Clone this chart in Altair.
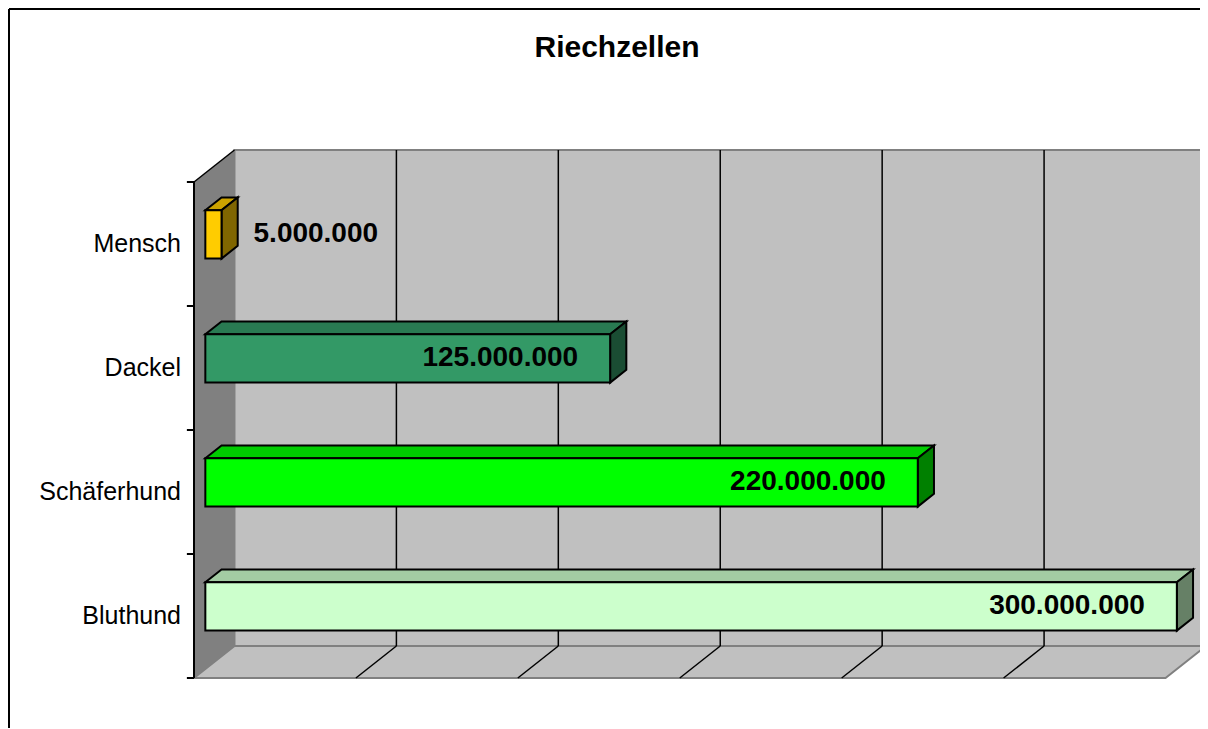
import altair as alt
import pandas as pd

# ---- data -------------------------------------------------------------
categories = ["Bluthund", "Schäferhund", "Dackel", "Mensch"]          # bottom -> top
values = [300000000, 220000000, 125000000, 5000000]
front_colors = ["#CCFFCC", "#00FF00", "#339966", "#FFCC00"]
top_colors = ["#A3CCA3", "#00CC00", "#297A52", "#CCA300"]
side_colors = ["#668066", "#008000", "#1A4D33", "#806600"]
grid_values = [50000000, 100000000, 150000000, 200000000, 250000000]
AXIS_MAX = 300000000
chart_title = "Riechzellen"

# ---- 3D geometry (in data units) ---------------------------------------
DX = 12.5e6          # depth shift along x
DY = 0.258           # depth shift along y (category units)
F1, F2 = 0.28, 0.68  # depth of bar front / back faces
Y0, Y1 = 0.31, 0.70  # bar extent inside its category band
TICK = 2.2e6
N = len(categories)
XMAX = AXIS_MAX + DX
YMAX = N + DY
FONT = "Liberation Sans"
PLOT_W = 1006
X_DOMAIN_MAX = XMAX * PLOT_W / 1012.0   # keep the scale, let the far edge run off the page

xs = alt.Scale(domain=[0, X_DOMAIN_MAX], nice=False, zero=False, clamp=False)
ys = alt.Scale(domain=[0, YMAX], nice=False, zero=False)


def X(f="x"):
    return alt.X(f"{f}:Q", scale=xs, axis=None, stack=None)


def Y(f="y"):
    return alt.Y(f"{f}:Q", scale=ys, axis=None, stack=None)


X2 = alt.X2("x2:Q")
Y2 = alt.Y2("y2:Q")

# back wall
wall = alt.Chart(pd.DataFrame([{"x": DX, "x2": XMAX, "y": DY, "y2": YMAX}])).mark_rect(
    fill="#C0C0C0", stroke="#808080", strokeWidth=2
).encode(x=X(), x2=X2, y=Y(), y2=Y2)

# floor
floor = alt.Chart(pd.DataFrame([
    {"y": 0, "x": 0, "x2": AXIS_MAX},
    {"y": DY, "x": DX, "x2": XMAX},
])).mark_area(orient="horizontal", fill="#C0C0C0", stroke="#808080", strokeWidth=2).encode(
    y=Y(), x=X(), x2=X2
)

# side wall
side = alt.Chart(pd.DataFrame([
    {"x": 0, "y": 0, "y2": N},
    {"x": DX, "y": DY, "y2": YMAX},
])).mark_area(orient="vertical", fill="#808080").encode(x=X(), y=Y(), y2=Y2)

# gridlines on back wall
grid = alt.Chart(pd.DataFrame([{"x": g + DX, "y": DY, "y2": YMAX} for g in grid_values])).mark_rule(
    color="black", strokeWidth=1.5
).encode(x=X(), y=Y(), y2=Y2)

# diagonals on floor
diag = alt.Chart(pd.DataFrame([{"x": g, "x2": g + DX, "y": 0, "y2": DY} for g in grid_values])).mark_rule(
    color="black", strokeWidth=1.5
).encode(x=X(), x2=X2, y=Y(), y2=Y2)

# side wall top edge
side_top = alt.Chart(pd.DataFrame([{"x": 0, "x2": DX, "y": N, "y2": YMAX}])).mark_rule(
    color="black", strokeWidth=1.5
).encode(x=X(), x2=X2, y=Y(), y2=Y2)

# axis line and ticks
axis_line = alt.Chart(pd.DataFrame([{"x": 0, "y": 0, "y2": N}])).mark_rule(
    color="black", strokeWidth=2
).encode(x=X(), y=Y(), y2=Y2)
ticks = alt.Chart(pd.DataFrame([{"x": -TICK, "x2": 0, "y": i} for i in range(N + 1)])).mark_rule(
    color="black", strokeWidth=2
).encode(x=X(), x2=X2, y=Y())

# bars
front_rows, top_rows, side_rows = [], [], []
for i, (c, v) in enumerate(zip(categories, values)):
    front_rows.append({"cat": c, "x": F1 * DX, "x2": v + F1 * DX,
                       "y": i + Y0 + F1 * DY, "y2": i + Y1 + F1 * DY, "col": front_colors[i]})
    top_rows.append({"cat": c, "y": i + Y1 + F1 * DY, "x": F1 * DX, "x2": v + F1 * DX, "col": top_colors[i]})
    top_rows.append({"cat": c, "y": i + Y1 + F2 * DY, "x": F2 * DX, "x2": v + F2 * DX, "col": top_colors[i]})
    side_rows.append({"cat": c, "x": v + F1 * DX, "y": i + Y0 + F1 * DY, "y2": i + Y1 + F1 * DY, "col": side_colors[i]})
    side_rows.append({"cat": c, "x": v + F2 * DX, "y": i + Y0 + F2 * DY, "y2": i + Y1 + F2 * DY, "col": side_colors[i]})

bar_top = alt.Chart(pd.DataFrame(top_rows)).mark_area(
    orient="horizontal", stroke="black", strokeWidth=2, opacity=1
).encode(y=Y(), x=X(), x2=X2, detail="cat:N", fill=alt.Fill("col:N", scale=None))

bar_side = alt.Chart(pd.DataFrame(side_rows)).mark_area(
    orient="vertical", stroke="black", strokeWidth=2, opacity=1
).encode(x=X(), y=Y(), y2=Y2, detail="cat:N", fill=alt.Fill("col:N", scale=None))

bar_front = alt.Chart(pd.DataFrame(front_rows)).mark_rect(stroke="black", strokeWidth=2).encode(
    x=X(), x2=X2, y=Y(), y2=Y2, fill=alt.Fill("col:N", scale=None)
)

# value labels
lab_df = pd.DataFrame([
    {"x": v + F1 * DX, "y": i + (Y0 + Y1) / 2 + F1 * DY,
     "label": f"{v:,}".replace(",", "."), "inside": v > 0.1 * AXIS_MAX}
    for i, v in enumerate(values)
])
lab_in = alt.Chart(lab_df).transform_filter("datum.inside").mark_text(
    align="right", baseline="middle", dx=-32, font=FONT, fontSize=28, fontWeight="bold", color="black"
).encode(x=X(), y=Y(), text="label:N")
lab_out = alt.Chart(lab_df).transform_filter("!datum.inside").mark_text(
    align="left", baseline="middle", dx=32, font=FONT, fontSize=28, fontWeight="bold", color="black"
).encode(x=X(), y=Y(), text="label:N")

# category labels
cat_df = pd.DataFrame([{"x": 0, "y": i + 0.5, "cat": c} for i, c in enumerate(categories)])
cat_labels = alt.Chart(cat_df).mark_text(
    align="right", baseline="middle", dx=-13, font=FONT, fontSize=25, color="black"
).encode(x=X(), y=Y(), text="cat:N")

# title
one = pd.DataFrame([{"t": chart_title}])
title = alt.Chart(one).mark_text(
    font=FONT, fontSize=30, fontWeight="bold", color="black", align="center", baseline="middle"
).encode(x=alt.value(423), y=alt.value(-102), text="t:N")

# outer border
border_left = alt.Chart(one).mark_rule(color="black", strokeWidth=2).encode(
    x=alt.value(-185), y=alt.value(-141), y2=alt.value(640)
)
border_top = alt.Chart(one).mark_rule(color="black", strokeWidth=2).encode(
    x=alt.value(-185), x2=alt.value(1030), y=alt.value(-141)
)

chart = alt.layer(
    wall, floor, side, grid, diag, side_top, axis_line, ticks,
    bar_top, bar_side, bar_front, lab_in, lab_out, cat_labels, title,
    border_left, border_top,
).properties(
    width=PLOT_W, height=528,
    autosize=alt.AutoSizeParams(type="none"),
    padding={"left": 186, "top": 142, "right": 0, "bottom": 50},
    background="white",
).configure_view(stroke=None)

chart.save("out.html", embed_options={"renderer": "svg", "actions": False})
